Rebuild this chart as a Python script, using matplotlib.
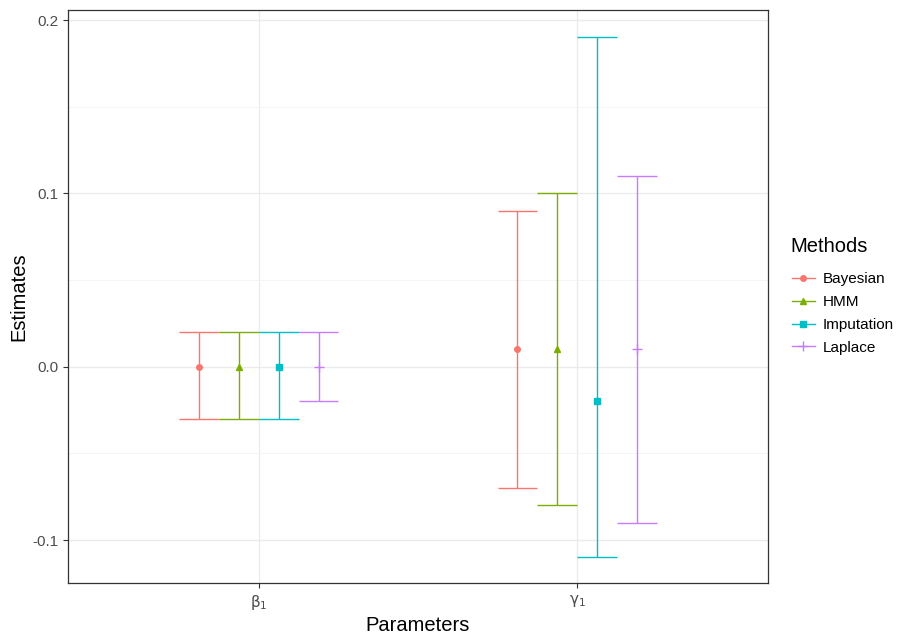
import matplotlib.pyplot as plt
from matplotlib.lines import Line2D

plt.rcParams["font.family"] = ["Liberation Sans", "DejaVu Sans"]

parameters = ["$\\mathrm{\\beta}_1$", "$\\mathrm{\\gamma}_1$"]
methods = ["Bayesian", "HMM", "Imputation", "Laplace"]
colors = ["#F8766D", "#7CAE00", "#00BFC4", "#C77CFF"]
markers = ["o", "^", "s", "+"]

# estimates per method, one value per parameter
estimate = {
    "Bayesian": [0.0, 0.01],
    "HMM": [0.0, 0.01],
    "Imputation": [0.0, -0.02],
    "Laplace": [0.0, 0.01],
}
lower = {
    "Bayesian": [-0.03, -0.07],
    "HMM": [-0.03, -0.08],
    "Imputation": [-0.03, -0.11],
    "Laplace": [-0.02, -0.09],
}
upper = {
    "Bayesian": [0.02, 0.09],
    "HMM": [0.02, 0.10],
    "Imputation": [0.02, 0.19],
    "Laplace": [0.02, 0.11],
}

fig = plt.figure(figsize=(9, 6.35), dpi=100)
ax = fig.add_axes([68 / 900, 52 / 635, 700 / 900, 573 / 635])

dodge = 0.5
n = len(methods)
cap = dodge / n
grey = "#4D4D4D"


def msize(mk):
    return 6.5 if mk == "+" else 4.0


for j, m in enumerate(methods):
    off = -dodge / 2 + dodge / n * (j + 0.5)
    for i in range(len(parameters)):
        x = i + 1 + off
        lo, hi, est = lower[m][i], upper[m][i], estimate[m][i]
        ax.vlines(x, lo, hi, color=colors[j], lw=1.0, zorder=3)
        ax.hlines([lo, hi], x - cap / 2, x + cap / 2, color=colors[j], lw=1.0, zorder=3)
        ax.plot(x, est, marker=markers[j], color=colors[j], ms=msize(markers[j]),
                mew=1.0, ls="none", zorder=4)

ax.set_xlim(0.4, 2.6)
ax.set_ylim(-0.1248, 0.2058)
ax.set_xticks([1, 2])
ax.set_xticklabels(parameters, fontsize=12)
ax.set_yticks([-0.1, 0.0, 0.1, 0.2])
ax.set_yticklabels(["-0.1", "0.0", "0.1", "0.2"])
ax.set_yticks([-0.05, 0.05, 0.15], minor=True)
ax.grid(True, which="major", color="#EBEBEB", lw=1.0, zorder=0)
ax.grid(True, which="minor", axis="y", color="#F3F3F3", lw=0.6, zorder=0)
ax.set_axisbelow(True)
ax.tick_params(axis="both", which="major", colors="#333333", labelcolor=grey,
               labelsize=11, length=3.5, width=0.8)
ax.tick_params(axis="y", which="minor", length=0)
for s in ax.spines.values():
    s.set_color("#333333")
    s.set_linewidth(0.9)

ax.set_xlabel("Parameters", fontsize=14.5, labelpad=3)
ax.set_ylabel("Estimates", fontsize=14.5, labelpad=3)

handles = [
    Line2D([0], [0], color=colors[j], marker=markers[j], lw=1.0,
           ms=msize(markers[j]))
    for j in range(n)
]
fig.text(790 / 900, 1 - 246 / 635, "Methods", fontsize=14.5, va="center", ha="left")
fig.legend(handles, methods, loc="center left",
           bbox_to_anchor=(781 / 900, 1 - 313.5 / 635),
           frameon=False, fontsize=11, handlelength=1.5,
           handletextpad=0.55, labelspacing=0.58, borderpad=0.2)

fig.savefig("out.png", dpi=100)
